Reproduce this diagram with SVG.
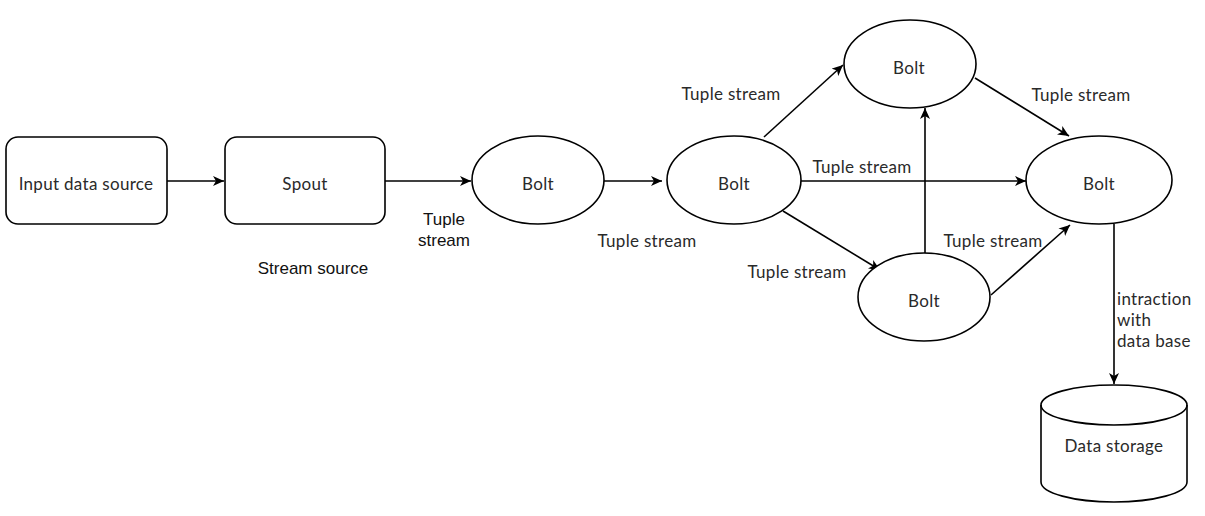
<svg xmlns="http://www.w3.org/2000/svg" width="1205" height="516" viewBox="0 0 1205 516">
<style>
.shape{fill:#fff;stroke:#000;stroke-width:1.6}
.edge{fill:none;stroke:#000;stroke-width:1.6}
.t{font-family:Lato,"Noto Sans",sans-serif;font-size:17px;letter-spacing:0.3px;fill:#2a2a2a;text-anchor:middle;dominant-baseline:central}
.tl{font-family:Lato,"Noto Sans",sans-serif;font-size:17px;letter-spacing:0.3px;fill:#2a2a2a;dominant-baseline:central}
.h{font-family:"Liberation Sans",Arial,sans-serif;font-size:17px;fill:#111;text-anchor:middle;dominant-baseline:central}
</style>
<defs>
<marker id="arr" markerUnits="userSpaceOnUse" markerWidth="12" markerHeight="10" viewBox="0 0 12 10" refX="11" refY="5" orient="auto">
<path d="M0,0 L11,5 L0,10 L3,5 Z" fill="#000"/>
</marker>
</defs>
<g id="connectors">
<line class="edge" x1="167" y1="181" x2="224" y2="181" marker-end="url(#arr)"/>
<line class="edge" x1="385" y1="181" x2="471" y2="181" marker-end="url(#arr)"/>
<line class="edge" x1="604" y1="181" x2="662" y2="181" marker-end="url(#arr)"/>
<line class="edge" x1="764" y1="137" x2="843" y2="65" marker-end="url(#arr)"/>
<line class="edge" x1="801" y1="181" x2="1026" y2="181" marker-end="url(#arr)"/>
<line class="edge" x1="783" y1="211" x2="880" y2="270" marker-end="url(#arr)"/>
<line class="edge" x1="925" y1="253" x2="925" y2="108" marker-end="url(#arr)"/>
<line class="edge" x1="975" y1="78" x2="1069" y2="136" marker-end="url(#arr)"/>
<line class="edge" x1="991" y1="295" x2="1070" y2="225" marker-end="url(#arr)"/>
<line class="edge" x1="1114" y1="224" x2="1114" y2="384" marker-end="url(#arr)"/>
<text class="h" x="444" y="219">Tuple</text>
<text class="h" x="444" y="240">stream</text>
<text class="t" x="647" y="240">Tuple stream</text>
<text class="t" x="731" y="93">Tuple stream</text>
<text class="t" x="862" y="166">Tuple stream</text>
<text class="t" x="797" y="271">Tuple stream</text>
<text class="t" x="1081" y="94">Tuple stream</text>
<text class="t" x="993" y="240">Tuple stream</text>
<text class="tl" x="1117" y="298">intraction</text>
<text class="tl" x="1117" y="319">with</text>
<text class="tl" x="1117" y="340">data base</text>
</g>
<g id="input">
<rect class="shape" x="6" y="137" width="161" height="87" rx="12"/>
<text class="t" x="86" y="183">Input data source</text>
</g>
<g id="spout">
<rect class="shape" x="225" y="137" width="160" height="87" rx="12"/>
<text class="t" x="305" y="183">Spout</text>
</g>
<text class="h" x="313" y="268">Stream source</text>
<g id="bolt1">
<ellipse class="shape" cx="538" cy="180" rx="66" ry="44"/>
<text class="t" x="538" y="183">Bolt</text>
</g>
<g id="bolt2">
<ellipse class="shape" cx="734" cy="180" rx="67" ry="44"/>
<text class="t" x="734" y="183">Bolt</text>
</g>
<g id="bolt-top">
<ellipse class="shape" cx="910" cy="64" rx="66" ry="44"/>
<text class="t" x="909" y="67">Bolt</text>
</g>
<g id="bolt-bottom">
<ellipse class="shape" cx="924" cy="297" rx="66" ry="44"/>
<text class="t" x="924" y="300">Bolt</text>
</g>
<g id="bolt-right">
<ellipse class="shape" cx="1099" cy="180" rx="73" ry="44"/>
<text class="t" x="1099" y="183">Bolt</text>
</g>
<g id="storage">
<path class="shape" d="M1041,405 L1041,482 A73,20 0 0 0 1187,482 L1187,405 A73,20 0 0 0 1041,405 Z"/>
<path class="edge" d="M1041,405 A73,20 0 0 0 1187,405"/>
<text class="t" x="1114" y="445">Data storage</text>
</g>
</svg>
